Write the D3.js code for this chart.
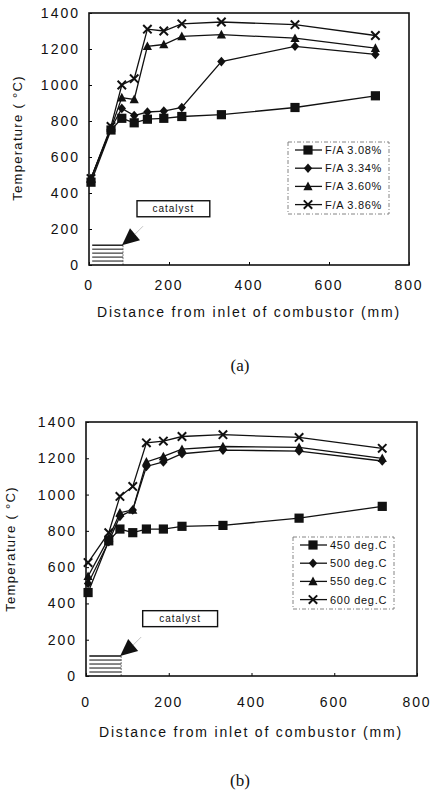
<!DOCTYPE html>
<html>
<head>
<meta charset="utf-8">
<script src="https://cdn.jsdelivr.net/npm/d3@7/dist/d3.min.js"></script>
<style>
  body { margin: 0; background: #fff; }
  svg { display: block; }
  text { font-family: Arial, 'Liberation Sans', sans-serif; fill: #111; }
</style>
</head>
<body>
<div id="chart"></div>
<script>
// distance from inlet (mm), shared by every series
const distance = [5, 55, 82, 113, 146, 187, 232, 331, 515, 716]

// panel (a): fuel/air ratio
const faLabels = ['F/A 3.08%', 'F/A 3.34%', 'F/A 3.60%', 'F/A 3.86%']
const fa308 = [460, 750, 815, 790, 810, 815, 825, 835, 875, 940]
const fa334 = [480, 760, 870, 830, 850, 855, 875, 1130, 1215, 1170]
const fa360 = [480, 760, 930, 920, 1215, 1225, 1270, 1280, 1260, 1205]
const fa386 = [480, 770, 1000, 1035, 1310, 1300, 1340, 1350, 1335, 1275]

// panel (b): inlet temperature
const tLabels = ['450 deg.C', '500 deg.C', '550 deg.C', '600 deg.C']
const t450 = [460, 745, 810, 790, 810, 810, 825, 830, 870, 935]
const t500 = [510, 740, 880, 915, 1155, 1180, 1225, 1245, 1240, 1185]
const t550 = [550, 760, 900, 915, 1180, 1210, 1250, 1265, 1260, 1200]
const t600 = [625, 790, 990, 1045, 1285, 1295, 1320, 1330, 1315, 1255]

const xTicks = [0, 200, 400, 600, 800]
const yTicks = [0, 200, 400, 600, 800, 1000, 1200, 1400]

const markers = ['square', 'diamond', 'triangle', 'cross']

const svg = d3
  .select('#chart')
  .append('svg')
  .attr('width', 430)
  .attr('height', 795)

// marker shapes, centred on 0,0
function markerPath(type) {
  if (type === 'square') return 'M-4.6,-4.6H4.6V4.6H-4.6Z'
  if (type === 'diamond') return 'M0,-4.8L4.2,0L0,4.8L-4.2,0Z'
  if (type === 'triangle') return 'M0,-4.8L4.6,3.8H-4.6Z'
  return 'M-4.2,-4.2L4.2,4.2M4.2,-4.2L-4.2,4.2'
}

function drawMarker(g, type, x, y) {
  let p = g.append('path')
    .attr('d', markerPath(type))
    .attr('transform', 'translate(' + x + ',' + y + ')')
  if (type === 'cross') {
    p.attr('fill', 'none').attr('stroke', '#111').attr('stroke-width', 2)
  } else {
    p.attr('fill', '#111')
  }
}

function drawPanel(opts) {
  let g = svg.append('g')
    .attr('transform', 'translate(' + opts.left + ',' + opts.top + ')')

  let xScale = d3.scaleLinear().domain([0, 800]).range([0, opts.width])
  let yScale = d3.scaleLinear().domain([0, 1400]).range([opts.height, 0])

  // inner ticks
  g.append('g')
    .attr('transform', 'translate(0,' + opts.height + ')')
    .call(d3.axisTop(xScale).tickValues(xTicks).tickSize(3).tickFormat(''))
    .call(a => a.select('.domain').remove())
  g.append('g')
    .call(d3.axisRight(yScale).tickValues(yTicks).tickSize(3).tickFormat(''))
    .call(a => a.select('.domain').remove())

  // tick labels
  g.selectAll('.xlab')
    .data(xTicks)
    .enter()
    .append('text')
    .attr('x', d => xScale(d))
    .attr('y', opts.height + opts.xLabGap)
    .attr('text-anchor', 'middle')
    .style('font-size', '14px')
    .style('letter-spacing', '1.8px')
    .text(d => d)
  g.selectAll('.ylab')
    .data(yTicks)
    .enter()
    .append('text')
    .attr('x', -9)
    .attr('y', d => yScale(d) + 5)
    .attr('text-anchor', 'end')
    .style('font-size', '14px')
    .style('letter-spacing', '2px')
    .text(d => d)

  // axis titles
  g.append('text')
    .attr('x', opts.xTitleX)
    .attr('y', opts.height + opts.xTitleGap)
    .attr('text-anchor', 'middle')
    .style('font-size', '14px')
    .style('letter-spacing', '1.8px')
    .text('Distance from inlet of combustor (mm)')
  g.append('text')
    .attr('transform', 'translate(' + opts.yTitleX + ',' + opts.yTitleY + ') rotate(-90)')
    .attr('text-anchor', 'middle')
    .style('font-size', '13px')
    .style('letter-spacing', '1.3px')
    .text('Temperature ( °C)')

  // catalyst bed sketch: hatched block with arrow and label
  let bed = g.append('g')
  let bx0 = xScale(8)
  let bx1 = xScale(85)
  let bedTop = yScale(110)
  d3.range(5).forEach(i => {
    bed.append('line')
      .attr('x1', bx0).attr('x2', bx1)
      .attr('y1', bedTop + i * (opts.height - bedTop) / 5)
      .attr('y2', bedTop + i * (opts.height - bedTop) / 5)
      .attr('stroke', '#111')
      .attr('stroke-width', i === 0 ? 1.4 : 1)
  })
  bed.append('line')
    .attr('x1', bx1).attr('x2', bx1)
    .attr('y1', bedTop).attr('y2', opts.height)
    .attr('stroke', '#555').attr('stroke-width', 0.8)
    .attr('stroke-dasharray', '2,1')
  let tip = [bx1 - 1, bedTop]
  bed.append('path')
    .attr('d', 'M' + tip[0] + ',' + tip[1] +
      'L' + (tip[0] + 8) + ',' + (tip[1] - 17) +
      'L' + (tip[0] + 18) + ',' + (tip[1] - 5) + 'Z')
    .attr('fill', '#111')
  bed.append('line')
    .attr('x1', tip[0] + 13).attr('y1', tip[1] - 11)
    .attr('x2', tip[0] + 21).attr('y2', tip[1] - 19)
    .attr('stroke', '#999').attr('stroke-width', 0.6)

  let lx0 = xScale(opts.labelBox[0])
  let lx1 = xScale(opts.labelBox[1])
  let ly0 = yScale(opts.labelBox[2])
  let ly1 = yScale(opts.labelBox[3])
  bed.append('rect')
    .attr('x', lx0).attr('y', ly0)
    .attr('width', lx1 - lx0).attr('height', ly1 - ly0)
    .attr('fill', '#fff').attr('stroke', '#111').attr('stroke-width', 1.4)
  bed.append('text')
    .attr('x', (lx0 + lx1) / 2)
    .attr('y', (ly0 + ly1) / 2 + 3.5)
    .attr('text-anchor', 'middle')
    .style('font-size', '10px')
    .style('letter-spacing', '1px')
    .text('catalyst')

  // series
  let line = d3.line()
    .x((d, i) => xScale(distance[i]))
    .y(d => yScale(d))

  opts.series.forEach((values, s) => {
    g.append('path')
      .datum(values)
      .attr('d', line)
      .attr('fill', 'none')
      .attr('stroke', '#111')
      .attr('stroke-width', 1.3)
  })
  opts.series.forEach((values, s) => {
    values.forEach((v, i) => {
      drawMarker(g, markers[s], xScale(distance[i]), yScale(v))
    })
  })

  // frame
  g.append('rect')
    .attr('width', opts.width)
    .attr('height', opts.height)
    .attr('fill', 'none')
    .attr('stroke', '#111')
    .attr('stroke-width', 1.6)

  // legend
  let leg = g.append('g')
    .attr('transform', 'translate(' + opts.legend[0] + ',' + opts.legend[1] + ')')
  leg.append('rect')
    .attr('width', 101)
    .attr('height', 72)
    .attr('fill', '#fff')
    .attr('stroke', '#777')
    .attr('stroke-width', 0.9)
    .attr('stroke-dasharray', '4,2,1,2')
  opts.labels.forEach((label, i) => {
    let y = 8 + i * 18.2
    leg.append('line')
      .attr('x1', 7).attr('x2', 34)
      .attr('y1', y).attr('y2', y)
      .attr('stroke', '#111').attr('stroke-width', 1.3)
    drawMarker(leg, markers[i], 20, y)
    leg.append('text')
      .attr('x', 37)
      .attr('y', y + 4)
      .style('font-size', '11px')
      .style('letter-spacing', '0.7px')
      .text(label)
  })

  // caption
  svg.append('text')
    .attr('x', 240)
    .attr('y', opts.captionY)
    .attr('text-anchor', 'middle')
    .style('font-family', "'Liberation Serif', 'DejaVu Serif', serif")
    .style('font-size', '17px')
    .text(opts.caption)
}

drawPanel({
  left: 89, top: 13, width: 320, height: 252,
  series: [fa308, fa334, fa360, fa386],
  labels: faLabels,
  legend: [199, 129],
  labelBox: [120, 302, 357, 268],
  xLabGap: 25, xTitleGap: 52, xTitleX: 160,
  yTitleX: -67, yTitleY: 125,
  caption: '(a)', captionY: 371
})

drawPanel({
  left: 86, top: 422, width: 331, height: 254,
  series: [t450, t500, t550, t600],
  labels: tLabels,
  legend: [207, 115],
  labelBox: [137, 318, 360, 272],
  xLabGap: 31, xTitleGap: 61, xTitleX: 165,
  yTitleX: -71, yTitleY: 127,
  caption: '(b)', captionY: 786
})
</script>
</body>
</html>
